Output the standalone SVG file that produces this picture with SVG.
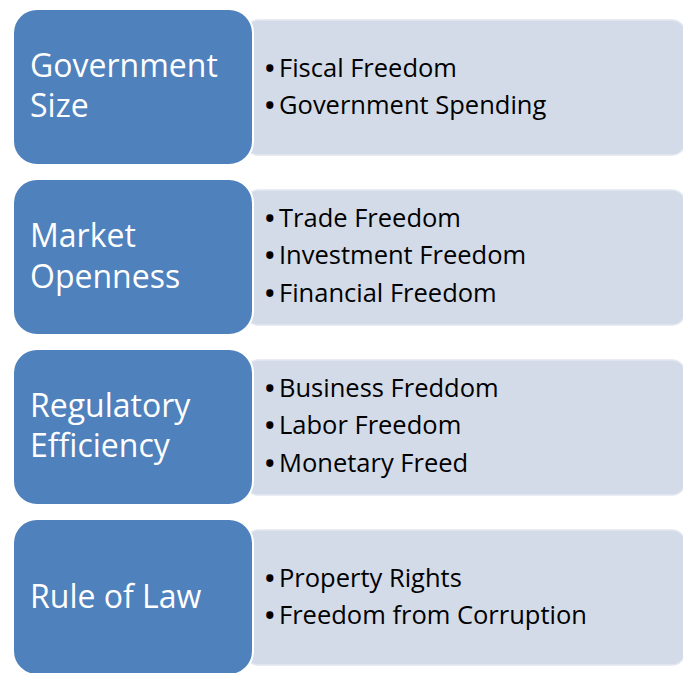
<svg xmlns="http://www.w3.org/2000/svg" width="683" height="673" viewBox="0 0 683 673">
<style>
.det{fill:#D4DBE8;stroke:#E2E7F0;stroke-width:1.5}
.head{fill:#4F81BD;stroke:#FFFFFF;stroke-width:2}
.ht{font-family:"Open Sans","Noto Sans",sans-serif;font-size:32px;fill:#FFFFFF}
.bt{font-family:"Open Sans","Noto Sans",sans-serif;font-size:25.5px;fill:#000000}
.bl{font-weight:700}
</style>
<rect width="683" height="673" fill="#FFFFFF"/>
<g id="node-government-size">
<rect class="det" x="245" y="20" width="440" height="135" rx="13"/>
<rect class="head" x="13" y="9" width="240" height="156" rx="24"/>
<text class="ht" x="30" y="77">Government</text>
<text class="ht" x="30" y="117">Size</text>
<text class="bt" x="265" y="77"><tspan class="bl">•</tspan><tspan x="279">Fiscal Freedom</tspan></text>
<text class="bt" x="265" y="114"><tspan class="bl">•</tspan><tspan x="279">Government Spending</tspan></text>
</g>
<g id="node-market-openness">
<rect class="det" x="245" y="190" width="440" height="135" rx="13"/>
<rect class="head" x="13" y="179" width="240" height="156" rx="24"/>
<text class="ht" x="30" y="247">Market</text>
<text class="ht" x="30" y="288">Openness</text>
<text class="bt" x="265" y="227"><tspan class="bl">•</tspan><tspan x="279">Trade Freedom</tspan></text>
<text class="bt" x="265" y="264"><tspan class="bl">•</tspan><tspan x="279">Investment Freedom</tspan></text>
<text class="bt" x="265" y="302"><tspan class="bl">•</tspan><tspan x="279">Financial Freedom</tspan></text>
</g>
<g id="node-regulatory-efficiency">
<rect class="det" x="245" y="360" width="440" height="135" rx="13"/>
<rect class="head" x="13" y="349" width="240" height="156" rx="24"/>
<text class="ht" x="30" y="417">Regulatory</text>
<text class="ht" x="30" y="457">Efficiency</text>
<text class="bt" x="265" y="397"><tspan class="bl">•</tspan><tspan x="279">Business Freddom</tspan></text>
<text class="bt" x="265" y="434"><tspan class="bl">•</tspan><tspan x="279">Labor Freedom</tspan></text>
<text class="bt" x="265" y="472"><tspan class="bl">•</tspan><tspan x="279">Monetary Freed</tspan></text>
</g>
<g id="node-rule-of-law">
<rect class="det" x="245" y="530" width="440" height="135" rx="13"/>
<rect class="head" x="13" y="519" width="240" height="156" rx="24"/>
<text class="ht" x="30" y="608">Rule of Law</text>
<text class="bt" x="265" y="587"><tspan class="bl">•</tspan><tspan x="279">Property Rights</tspan></text>
<text class="bt" x="265" y="624"><tspan class="bl">•</tspan><tspan x="279">Freedom from Corruption</tspan></text>
</g>
<g id="connectors"></g>
</svg>
